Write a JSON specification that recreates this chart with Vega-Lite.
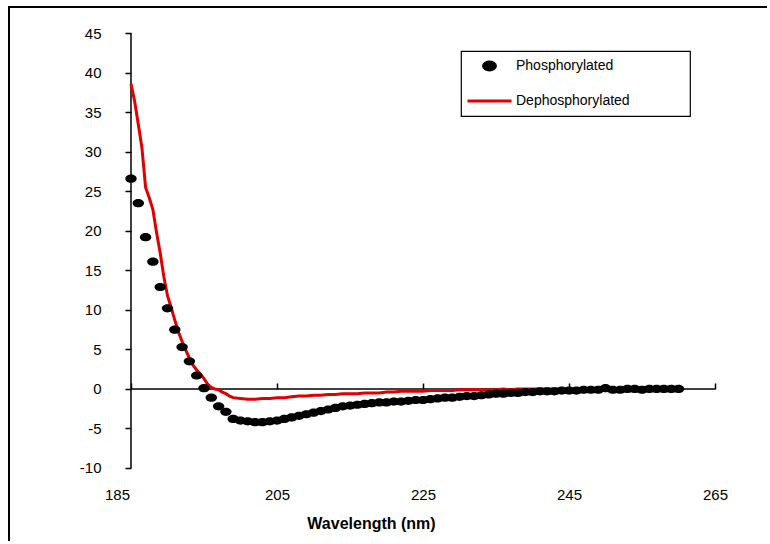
{
  "$schema": "https://vega.github.io/schema/vega-lite/v6.json",
  "width": 761,
  "height": 537,
  "autosize": {"type": "none"},
  "padding": {"left": 9, "top": 7, "right": -3, "bottom": -3},
  "config": {"view": {"stroke": "black", "strokeWidth": 2}, "font": "Liberation Sans"},
  "datasets": {
    "phos": [
      {"wavelength": 185, "value": 26.6, "series": "Phosphorylated"},
      {"wavelength": 186, "value": 23.5, "series": "Phosphorylated"},
      {"wavelength": 187, "value": 19.2, "series": "Phosphorylated"},
      {"wavelength": 188, "value": 16.1, "series": "Phosphorylated"},
      {"wavelength": 189, "value": 12.9, "series": "Phosphorylated"},
      {"wavelength": 190, "value": 10.2, "series": "Phosphorylated"},
      {"wavelength": 191, "value": 7.5, "series": "Phosphorylated"},
      {"wavelength": 192, "value": 5.3, "series": "Phosphorylated"},
      {"wavelength": 193, "value": 3.5, "series": "Phosphorylated"},
      {"wavelength": 194, "value": 1.7, "series": "Phosphorylated"},
      {"wavelength": 195, "value": 0.1, "series": "Phosphorylated"},
      {"wavelength": 196, "value": -1.1, "series": "Phosphorylated"},
      {"wavelength": 197, "value": -2.2, "series": "Phosphorylated"},
      {"wavelength": 198, "value": -2.9, "series": "Phosphorylated"},
      {"wavelength": 199, "value": -3.8, "series": "Phosphorylated"},
      {"wavelength": 200, "value": -4.0, "series": "Phosphorylated"},
      {"wavelength": 201, "value": -4.1, "series": "Phosphorylated"},
      {"wavelength": 202, "value": -4.2, "series": "Phosphorylated"},
      {"wavelength": 203, "value": -4.2, "series": "Phosphorylated"},
      {"wavelength": 204, "value": -4.1, "series": "Phosphorylated"},
      {"wavelength": 205, "value": -4.0, "series": "Phosphorylated"},
      {"wavelength": 206, "value": -3.8, "series": "Phosphorylated"},
      {"wavelength": 207, "value": -3.6, "series": "Phosphorylated"},
      {"wavelength": 208, "value": -3.4, "series": "Phosphorylated"},
      {"wavelength": 209, "value": -3.2, "series": "Phosphorylated"},
      {"wavelength": 210, "value": -3.0, "series": "Phosphorylated"},
      {"wavelength": 211, "value": -2.8, "series": "Phosphorylated"},
      {"wavelength": 212, "value": -2.6, "series": "Phosphorylated"},
      {"wavelength": 213, "value": -2.4, "series": "Phosphorylated"},
      {"wavelength": 214, "value": -2.2, "series": "Phosphorylated"},
      {"wavelength": 215, "value": -2.1, "series": "Phosphorylated"},
      {"wavelength": 216, "value": -2.0, "series": "Phosphorylated"},
      {"wavelength": 217, "value": -1.9, "series": "Phosphorylated"},
      {"wavelength": 218, "value": -1.8, "series": "Phosphorylated"},
      {"wavelength": 219, "value": -1.7, "series": "Phosphorylated"},
      {"wavelength": 220, "value": -1.7, "series": "Phosphorylated"},
      {"wavelength": 221, "value": -1.6, "series": "Phosphorylated"},
      {"wavelength": 222, "value": -1.6, "series": "Phosphorylated"},
      {"wavelength": 223, "value": -1.5, "series": "Phosphorylated"},
      {"wavelength": 224, "value": -1.4, "series": "Phosphorylated"},
      {"wavelength": 225, "value": -1.4, "series": "Phosphorylated"},
      {"wavelength": 226, "value": -1.3, "series": "Phosphorylated"},
      {"wavelength": 227, "value": -1.2, "series": "Phosphorylated"},
      {"wavelength": 228, "value": -1.1, "series": "Phosphorylated"},
      {"wavelength": 229, "value": -1.1, "series": "Phosphorylated"},
      {"wavelength": 230, "value": -1.0, "series": "Phosphorylated"},
      {"wavelength": 231, "value": -0.9, "series": "Phosphorylated"},
      {"wavelength": 232, "value": -0.9, "series": "Phosphorylated"},
      {"wavelength": 233, "value": -0.8, "series": "Phosphorylated"},
      {"wavelength": 234, "value": -0.7, "series": "Phosphorylated"},
      {"wavelength": 235, "value": -0.6, "series": "Phosphorylated"},
      {"wavelength": 236, "value": -0.6, "series": "Phosphorylated"},
      {"wavelength": 237, "value": -0.5, "series": "Phosphorylated"},
      {"wavelength": 238, "value": -0.5, "series": "Phosphorylated"},
      {"wavelength": 239, "value": -0.4, "series": "Phosphorylated"},
      {"wavelength": 240, "value": -0.4, "series": "Phosphorylated"},
      {"wavelength": 241, "value": -0.3, "series": "Phosphorylated"},
      {"wavelength": 242, "value": -0.3, "series": "Phosphorylated"},
      {"wavelength": 243, "value": -0.3, "series": "Phosphorylated"},
      {"wavelength": 244, "value": -0.2, "series": "Phosphorylated"},
      {"wavelength": 245, "value": -0.2, "series": "Phosphorylated"},
      {"wavelength": 246, "value": -0.2, "series": "Phosphorylated"},
      {"wavelength": 247, "value": -0.1, "series": "Phosphorylated"},
      {"wavelength": 248, "value": -0.1, "series": "Phosphorylated"},
      {"wavelength": 249, "value": -0.1, "series": "Phosphorylated"},
      {"wavelength": 250, "value": 0.1, "series": "Phosphorylated"},
      {"wavelength": 251, "value": -0.1, "series": "Phosphorylated"},
      {"wavelength": 252, "value": -0.1, "series": "Phosphorylated"},
      {"wavelength": 253, "value": 0.0, "series": "Phosphorylated"},
      {"wavelength": 254, "value": 0.0, "series": "Phosphorylated"},
      {"wavelength": 255, "value": -0.1, "series": "Phosphorylated"},
      {"wavelength": 256, "value": 0.0, "series": "Phosphorylated"},
      {"wavelength": 257, "value": 0.0, "series": "Phosphorylated"},
      {"wavelength": 258, "value": 0.0, "series": "Phosphorylated"},
      {"wavelength": 259, "value": 0.0, "series": "Phosphorylated"},
      {"wavelength": 260, "value": 0.0, "series": "Phosphorylated"}
    ],
    "dephos": [
      {"wavelength": 185, "value": 38.6, "series": "Dephosphorylated"},
      {"wavelength": 185.5, "value": 36.4, "series": "Dephosphorylated"},
      {"wavelength": 186, "value": 33.5, "series": "Dephosphorylated"},
      {"wavelength": 186.5, "value": 30.5, "series": "Dephosphorylated"},
      {"wavelength": 187, "value": 25.5, "series": "Dephosphorylated"},
      {"wavelength": 187.5, "value": 24.2, "series": "Dephosphorylated"},
      {"wavelength": 188, "value": 22.7, "series": "Dephosphorylated"},
      {"wavelength": 188.5, "value": 19.8, "series": "Dephosphorylated"},
      {"wavelength": 189, "value": 17.2, "series": "Dephosphorylated"},
      {"wavelength": 189.5, "value": 14.2, "series": "Dephosphorylated"},
      {"wavelength": 190, "value": 11.8, "series": "Dephosphorylated"},
      {"wavelength": 190.5, "value": 10.3, "series": "Dephosphorylated"},
      {"wavelength": 191, "value": 8.7, "series": "Dephosphorylated"},
      {"wavelength": 191.5, "value": 7.2, "series": "Dephosphorylated"},
      {"wavelength": 192, "value": 6.0, "series": "Dephosphorylated"},
      {"wavelength": 192.5, "value": 4.9, "series": "Dephosphorylated"},
      {"wavelength": 193, "value": 3.9, "series": "Dephosphorylated"},
      {"wavelength": 193.5, "value": 3.0, "series": "Dephosphorylated"},
      {"wavelength": 194, "value": 2.4, "series": "Dephosphorylated"},
      {"wavelength": 194.5, "value": 1.9, "series": "Dephosphorylated"},
      {"wavelength": 195, "value": 1.3, "series": "Dephosphorylated"},
      {"wavelength": 195.5, "value": 0.6, "series": "Dephosphorylated"},
      {"wavelength": 196, "value": 0.2, "series": "Dephosphorylated"},
      {"wavelength": 196.5, "value": 0.0, "series": "Dephosphorylated"},
      {"wavelength": 197, "value": -0.1, "series": "Dephosphorylated"},
      {"wavelength": 197.5, "value": -0.4, "series": "Dephosphorylated"},
      {"wavelength": 198, "value": -0.6, "series": "Dephosphorylated"},
      {"wavelength": 198.5, "value": -0.9, "series": "Dephosphorylated"},
      {"wavelength": 199, "value": -1.1, "series": "Dephosphorylated"},
      {"wavelength": 200, "value": -1.2, "series": "Dephosphorylated"},
      {"wavelength": 201, "value": -1.3, "series": "Dephosphorylated"},
      {"wavelength": 202, "value": -1.3, "series": "Dephosphorylated"},
      {"wavelength": 203, "value": -1.2, "series": "Dephosphorylated"},
      {"wavelength": 204, "value": -1.2, "series": "Dephosphorylated"},
      {"wavelength": 205, "value": -1.1, "series": "Dephosphorylated"},
      {"wavelength": 206, "value": -1.1, "series": "Dephosphorylated"},
      {"wavelength": 207, "value": -1.0, "series": "Dephosphorylated"},
      {"wavelength": 208, "value": -0.9, "series": "Dephosphorylated"},
      {"wavelength": 209, "value": -0.9, "series": "Dephosphorylated"},
      {"wavelength": 210, "value": -0.8, "series": "Dephosphorylated"},
      {"wavelength": 211, "value": -0.8, "series": "Dephosphorylated"},
      {"wavelength": 212, "value": -0.7, "series": "Dephosphorylated"},
      {"wavelength": 213, "value": -0.7, "series": "Dephosphorylated"},
      {"wavelength": 214, "value": -0.6, "series": "Dephosphorylated"},
      {"wavelength": 215, "value": -0.6, "series": "Dephosphorylated"},
      {"wavelength": 216, "value": -0.6, "series": "Dephosphorylated"},
      {"wavelength": 217, "value": -0.5, "series": "Dephosphorylated"},
      {"wavelength": 218, "value": -0.5, "series": "Dephosphorylated"},
      {"wavelength": 219, "value": -0.5, "series": "Dephosphorylated"},
      {"wavelength": 220, "value": -0.4, "series": "Dephosphorylated"},
      {"wavelength": 221, "value": -0.4, "series": "Dephosphorylated"},
      {"wavelength": 222, "value": -0.3, "series": "Dephosphorylated"},
      {"wavelength": 223, "value": -0.3, "series": "Dephosphorylated"},
      {"wavelength": 224, "value": -0.3, "series": "Dephosphorylated"},
      {"wavelength": 225, "value": -0.3, "series": "Dephosphorylated"},
      {"wavelength": 226, "value": -0.2, "series": "Dephosphorylated"},
      {"wavelength": 227, "value": -0.2, "series": "Dephosphorylated"},
      {"wavelength": 228, "value": -0.2, "series": "Dephosphorylated"},
      {"wavelength": 229, "value": -0.2, "series": "Dephosphorylated"},
      {"wavelength": 230, "value": -0.1, "series": "Dephosphorylated"},
      {"wavelength": 231, "value": -0.1, "series": "Dephosphorylated"},
      {"wavelength": 232, "value": -0.1, "series": "Dephosphorylated"},
      {"wavelength": 233, "value": -0.1, "series": "Dephosphorylated"},
      {"wavelength": 234, "value": -0.1, "series": "Dephosphorylated"},
      {"wavelength": 235, "value": -0.1, "series": "Dephosphorylated"},
      {"wavelength": 236, "value": 0.0, "series": "Dephosphorylated"},
      {"wavelength": 237, "value": -0.1, "series": "Dephosphorylated"},
      {"wavelength": 238, "value": 0.0, "series": "Dephosphorylated"},
      {"wavelength": 240, "value": 0.0, "series": "Dephosphorylated"},
      {"wavelength": 242, "value": 0.0, "series": "Dephosphorylated"},
      {"wavelength": 245, "value": 0.0, "series": "Dephosphorylated"},
      {"wavelength": 250, "value": 0.0, "series": "Dephosphorylated"},
      {"wavelength": 255, "value": 0.0, "series": "Dephosphorylated"},
      {"wavelength": 260, "value": 0.0, "series": "Dephosphorylated"}
    ]
  },
  "resolve": {"scale": {"x": "shared", "y": "shared"}, "axis": {"x": "independent", "y": "independent"}},
  "layer": [
    {
      "data": {"values": [{}]},
      "mark": {"type": "rule", "color": "black", "strokeWidth": 1.5},
      "encoding": {
        "x": {"datum": 185, "type": "quantitative", "axis": null, "scale": {"domain": [168.29, 272.53], "nice": false, "zero": false}},
        "y": {"datum": -10, "type": "quantitative", "axis": null, "scale": {"domain": [-19.62, 48.33], "nice": false, "zero": false}},
        "y2": {"datum": 45}
      }
    },
    {
      "data": {"values": [{}]},
      "mark": {"type": "rule", "color": "black", "strokeWidth": 1.5},
      "encoding": {
        "x": {"datum": 185, "type": "quantitative", "axis": null, "scale": {"domain": [168.29, 272.53], "nice": false, "zero": false}},
        "x2": {"datum": 265},
        "y": {"datum": 0, "type": "quantitative", "axis": null, "scale": {"domain": [-19.62, 48.33], "nice": false, "zero": false}}
      }
    },
    {
      "data": {"name": "dephos"},
      "mark": {"type": "line", "strokeWidth": 3},
      "encoding": {
        "x": {
          "field": "wavelength", "type": "quantitative",
          "scale": {"domain": [168.29, 272.53], "nice": false, "zero": false},
          "axis": {
            "orient": "bottom", "offset": -57, "values": [185, 205, 225, 245, 265],
            "domain": false, "ticks": false, "grid": false, "labelPadding": 0,
            "labelFontSize": 15, "labelColor": "black", "labelFont": "Liberation Sans",
            "labelOffset": {"condition": {"test": "datum.value === 185", "value": -14}, "value": 0},
            "title": "Wavelength (nm)", "titleFontSize": 16, "titleFontWeight": "bold",
            "titleColor": "black", "titleFont": "Liberation Sans",
            "titleX": 362, "titleY": 41, "titleBaseline": "alphabetic", "titleAlign": "center"
          }
        },
        "y": {
          "field": "value", "type": "quantitative",
          "scale": {"domain": [-19.62, 48.33], "nice": false, "zero": false},
          "axis": {
            "orient": "left", "offset": -122, "values": [-10, -5, 0, 5, 10, 15, 20, 25, 30, 35, 40, 45],
            "domain": false, "grid": false, "tickSize": 6, "tickWidth": 1.5, "tickColor": "black",
            "labelPadding": 24,
            "labelExpr": "datum.value === -10 ? '-10\u00a0\u00a0' : '' + datum.value",
            "labelFontSize": 15, "labelColor": "black", "labelFont": "Liberation Sans",
            "title": null
          }
        },
        "color": {
          "field": "series", "type": "nominal",
          "scale": {"domain": ["Phosphorylated", "Dephosphorylated"], "range": ["#000000", "#e00000"]},
          "legend": {
            "title": null, "orient": "none", "legendX": 452, "legendY": 44,
            "strokeColor": "black", "padding": 5,
            "symbolSize": 1936, "symbolStrokeWidth": 3, "clipHeight": 20, "rowPadding": 15, "labelOffset": 3,
            "labelFontSize": 14, "labelColor": "black", "labelFont": "Liberation Sans", "labelLimit": 400,
            "encode": {
              "legend": {"update": {"strokeWidth": {"value": 1.2}}},
              "entries": {"update": {"width": {"value": 219}}},
              "symbols": {
                "update": {
                  "size": {"value": 1936},
                  "shape": {"signal": "datum.value === 'Dephosphorylated' ? 'stroke' : 'M-0.27,0A0.27,0.18,0,1,0,0.27,0A0.27,0.18,0,1,0,-0.27,0Z'"},
                  "fill": {"signal": "datum.value === 'Dephosphorylated' ? 'transparent' : '#000000'"},
                  "stroke": {"signal": "datum.value === 'Dephosphorylated' ? '#e00000' : 'transparent'"},
                  "strokeWidth": {"value": 3},
                  "opacity": {"value": 1}
                }
              }
            }
          }
        }
      }
    },
    {
      "data": {"name": "phos"},
      "mark": {"type": "point", "filled": true, "opacity": 1, "size": 130, "shape": "M-1,0A1,0.72,0,1,0,1,0A1,0.72,0,1,0,-1,0Z"},
      "encoding": {
        "x": {
          "field": "wavelength", "type": "quantitative",
          "scale": {"domain": [168.29, 272.53], "nice": false, "zero": false},
          "axis": {
            "orient": "top", "offset": -382, "values": [185, 205, 225, 245, 265],
            "domain": false, "labels": false, "grid": false, "tickSize": 6, "tickWidth": 1.5,
            "tickColor": "black", "title": null
          }
        },
        "y": {
          "field": "value", "type": "quantitative",
          "scale": {"domain": [-19.62, 48.33], "nice": false, "zero": false},
          "axis": null
        },
        "color": {"field": "series", "type": "nominal", "scale": {"domain": ["Phosphorylated", "Dephosphorylated"], "range": ["#000000", "#e00000"]}}
      }
    }
  ]
}
